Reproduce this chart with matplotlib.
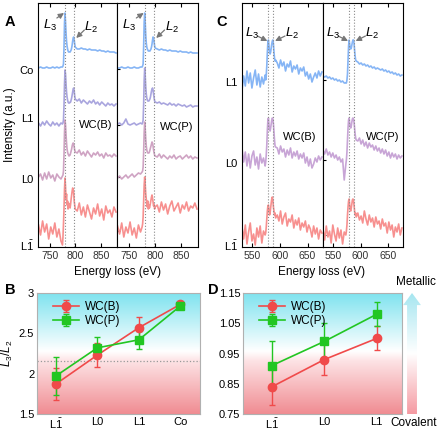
import numpy as np
import matplotlib
matplotlib.use("Agg")
import matplotlib.pyplot as plt
from matplotlib.colors import LinearSegmentedColormap
from matplotlib.patches import Polygon

plt.rcParams["font.family"] = ["Liberation Sans", "DejaVu Sans"]
plt.rcParams["mathtext.fontset"] = "custom"
plt.rcParams["mathtext.rm"] = "Liberation Sans"
plt.rcParams["mathtext.it"] = "Liberation Sans:italic"
plt.rcParams["mathtext.bf"] = "Liberation Sans:bold"

LBAR = r"$\mathregular{L\bar{1}}$"
BLUE = "#86b5f5"
LAV = "#a9a5de"
MAUVE = "#cfa3c3"
LILAC = "#c8a5d6"
SALMON = "#f7908f"
RED = "#f04a4a"
GREEN = "#22c622"
GREY = "#8a8a8a"

# ---------------------------------------------------------------- data
# Co L-edge spectra (panel A), intensity above each trace's own baseline (a.u.)
E_A = np.concatenate([np.arange(728, 776, 4), np.arange(775, 801), np.arange(804, 884, 4)])
A_labels = ["Co", "L1", "L0", LBAR]
A_offsets = [179, 123, 70, 18]
A_colors = [BLUE, LAV, MAUVE, SALMON]

wcb_co = [0, 1, 0, 0, 1, 0, 0, 1, 0, 1, 0, 1,
          1, 2, 4, 20, 45, 55, 46, 35, 27, 22, 19, 17, 16, 16, 16, 16, 17, 18, 20, 23, 27, 30, 31, 28, 24, 21,
          19, 19, 20, 19, 19, 18, 19, 18, 18, 18, 17, 18, 17, 17, 16, 17, 16, 16, 16, 15]
wcb_l1 = [1, -2, 2, -1, 3, 0, -2, 2, -1, 1, -2, 1,
          0, 1, 4, 18, 40, 54, 50, 40, 32, 27, 24, 22, 21, 21, 21, 22, 22, 24, 26, 29, 32, 35, 36, 33, 28, 25,
          23, 25, 21, 24, 22, 20, 23, 21, 24, 20, 22, 19, 22, 20, 18, 21, 19, 20, 18, 20]
wcb_l0 = [0, 3, -3, 4, -2, 5, -1, 2, -4, 3, 0, -2,
          1, 2, 6, 22, 45, 57, 52, 42, 34, 28, 25, 23, 22, 21, 22, 22, 24, 26, 28, 31, 33, 34, 33, 30, 27, 25,
          24, 27, 22, 25, 21, 26, 23, 20, 24, 22, 25, 21, 23, 19, 24, 21, 22, 20, 23, 21]
wcb_l1bar = [4, -6, 8, -3, 5, -10, 2, -5, 6, -8, 0, -12,
             -16, -8, 5, 20, 40, 51, 42, 30, 35, 24, 28, 20, 26, 22, 24, 21, 25, 30, 34, 38, 41, 40, 36, 28, 24, 20,
             18, 26, 14, 22, 12, 24, 17, 10, 21, 15, 25, 13, 20, 9, 23, 16, 19, 12, 22, 17]

wcp_co = [0, 0, 1, 0, 0, 1, 0, 0, 1, 0, 0, 1,
          1, 2, 4, 22, 46, 55, 45, 33, 25, 21, 19, 18, 17, 17, 17, 17, 18, 19, 21, 24, 28, 31, 30, 26, 22, 20,
          19, 18, 19, 18, 18, 17, 18, 17, 17, 17, 16, 17, 16, 16, 16, 15, 16, 15, 15, 15]
wcp_l1 = [0, 1, -1, 1, 5, 0, -1, 0, 1, -1, 0, 1,
          0, 1, 4, 20, 44, 56, 48, 37, 30, 26, 24, 23, 23, 23, 24, 25, 27, 30, 33, 35, 36, 34, 30, 26, 23, 22,
          21, 22, 20, 21, 20, 19, 21, 19, 20, 18, 20, 19, 18, 19, 17, 18, 19, 17, 18, 18]
wcp_l0 = [-1, 1, -2, 0, 2, -1, 1, 3, 0, 2, 4, 3,
          5, 6, 10, 25, 45, 55, 48, 38, 31, 27, 25, 24, 24, 24, 25, 27, 29, 31, 33, 35, 34, 31, 27, 24, 22, 21,
          20, 23, 19, 22, 20, 18, 21, 19, 22, 18, 20, 21, 18, 20, 22, 19, 21, 18, 20, 19]
wcp_l1bar = [3, -5, 6, -8, 2, -4, 7, -6, 1, -9, 4, -3,
             2, 5, 12, 28, 44, 52, 44, 35, 30, 26, 22, 28, 20, 24, 21, 23, 26, 29, 32, 34, 31, 27, 23, 25, 20, 22,
             24, 17, 27, 19, 25, 15, 23, 28, 18, 22, 26, 16, 24, 20, 27, 18, 23, 21, 26, 20]

# Cr L-edge spectra (panel C)
E_C = np.concatenate([np.arange(531, 574, 3), np.arange(574, 593), np.arange(595, 678, 3)])
C_labels = ["L1", "L0", LBAR]
C_offsets = [167, 87, 12]
C_colors = [BLUE, LILAC, SALMON]

c_wcb_l1 = [-10, 4, -6, 9, -3, 7, -8, 2, 10, -5, 6, -7, 3, -4, 5,
            0, 5, 14, 28, 38, 40, 34, 28, 26, 28, 32, 36, 39, 40, 36, 28, 22, 19, 20,
            17, 12, 20, 14, 18, 9, 16, 13, 19, 8, 14, 11, 15, 6, 12, 9, 13, 4, 8, 1, 6, -2, 3, 7, 2, 9, 4, 8]
c_wcb_l0 = [12, -2, 8, -6, 6, -8, 4, 9, -5, 3, -9, 6, -3, 2, -6,
            -2, 5, 15, 30, 40, 42, 35, 30, 29, 32, 36, 40, 42, 41, 36, 28, 20, 14, 13,
            12, 6, 14, 8, 11, 3, 10, 5, 12, 2, 8, 4, 9, 1, 6, 2, 7, -3, 3, -6, 1, -8, -4, 2, -2, 4, 0, 3]
c_wcb_l1bar = [8, -4, 10, -9, 3, 12, -6, 1, -10, 7, -2, 9, -8, 4, 0,
               2, 8, 16, 24, 29, 30, 24, 20, 22, 27, 32, 36, 38, 35, 28, 24, 20, 22, 17,
               20, 14, 24, 11, 18, 22, 9, 16, 13, 20, 7, 15, 10, 17, 5, 12, 8, 14, 3, 10, 6, -2, 9, 1, 7, -4, 5, 2]

c_wcp_l1 = [4, 3, 4, 2, 3, 1, 2, 0, 1, -1, 0, -2, -1, -3, -3,
            -3, 0, 6, 20, 34, 40, 36, 32, 31, 32, 35, 38, 40, 40, 37, 30, 24, 20, 19,
            18, 16, 17, 15, 16, 14, 15, 13, 14, 12, 13, 11, 12, 11, 10, 11, 9, 10, 8, 9, 7, 8, 6, 7, 5, 6, 4, 5]
c_wcp_l0 = [10, 6, 11, 5, 8, 3, 7, 2, 5, 0, 3, -2, 1, -20, -4,
            0, 8, 20, 32, 40, 42, 37, 33, 32, 34, 38, 41, 42, 41, 38, 32, 26, 22, 20,
            19, 22, 16, 20, 14, 18, 12, 17, 13, 15, 10, 14, 9, 12, 7, 11, 6, 10, 4, 8, 2, 7, 3, 6, 1, 5, 2, 4]
c_wcp_l1bar = [6, -5, 9, -2, 4, -8, 10, 1, -6, 7, -3, 5, -9, 3, 0,
               4, 10, 20, 28, 34, 36, 30, 25, 24, 27, 31, 35, 36, 35, 30, 24, 20, 22, 18,
               22, 15, 19, 12, 24, 16, 10, 20, 13, 17, 8, 18, 11, 14, 6, 16, 9, 12, 2, 13, 5, 10, -2, 8, 3, 11, 0, 7]

# L3/L2 ratios (panel B: Co, panel D: Cr)
B_cats = [LBAR, "L0", "L1", "Co"]
B_wcb = [1.87, 2.23, 2.57, 2.86]
B_wcb_err = [0.20, 0.15, 0.13, 0.03]
B_wcp = [1.97, 2.32, 2.42, 2.84]
B_wcp_err = [0.24, 0.13, 0.11, 0.04]
B_ref = 2.16

D_cats = [LBAR, "L0", "L1"]
D_wcb = [0.84, 0.93, 1.00]
D_wcb_err = [0.06, 0.05, 0.04]
D_wcp = [0.91, 0.99, 1.08]
D_wcp_err = [0.08, 0.06, 0.04]

# ---------------------------------------------------------------- layout helpers
W, H = 440, 430
fig = plt.figure(figsize=(4.4, 4.3), dpi=100)


def box(x0, y0, x1, y1):
    return [x0 / W, 1 - y1 / H, (x1 - x0) / W, (y1 - y0) / H]


def spectrum_axes(rect, E, curves, offsets, colors, xlim, xticks, edges,
                  name, name_xy, l3, l2, labels=None, label_pos=None, tick_pos=None):
    ax = fig.add_axes(rect)
    for c, off, col in zip(curves, offsets, colors):
        ax.plot(E, np.array(c) + off, color=col, lw=1.2)
    for e in edges:
        ax.axvline(e, color=GREY, ls=":", lw=0.8)
    ax.set_xlim(*xlim)
    ax.set_ylim(0, 244)
    ax.set_xticks(xticks)
    ax.tick_params(axis="x", direction="in", top=True, length=3, labelsize=7.5, pad=3,
                   labelcolor="#333333")
    if labels is not None:
        ax.set_yticks(label_pos)
        ax.set_yticklabels(labels, fontsize=8)
        ax.tick_params(axis="y", length=0, pad=3)
    else:
        ax.set_yticks(tick_pos)
        ax.set_yticklabels([])
        ax.tick_params(axis="y", direction="in", length=2)
    for s in ax.spines.values():
        s.set_linewidth(0.8)
    ax.text(name_xy[0], name_xy[1], name, fontsize=8, ha="center", va="center")
    arr = dict(arrowstyle="-|>", color="#777777", lw=0.9, mutation_scale=8,
               shrinkA=0, shrinkB=0)
    ax.annotate("", xy=l3[2], xytext=l3[1], arrowprops=arr)
    ax.text(l3[0][0], l3[0][1], "$L_3$", fontsize=9.5, ha="center", va="center")
    ax.annotate("", xy=l2[2], xytext=l2[1], arrowprops=arr)
    ax.text(l2[0][0], l2[0][1], "$L_2$", fontsize=9.5, ha="center", va="center")
    return ax


# ---------------------------------------------------------------- A
A_l3 = [(751, 222), (764, 229), (778, 234)]
A_l2 = [(832, 220), (818, 217), (802, 209)]
spectrum_axes(box(38, 3, 117, 247), E_A, [wcb_co, wcb_l1, wcb_l0, wcb_l1bar], A_offsets, A_colors,
              (727, 882), [750, 800, 850], [780, 797], "WC(B)", (840, 122), A_l3, A_l2,
              labels=A_labels, label_pos=[177, 129, 68, 2])
spectrum_axes(box(117, 3, 198, 247), E_A, [wcp_co, wcp_l1, wcp_l0, wcp_l1bar], A_offsets, A_colors,
              (727, 882), [750, 800, 850], [780, 797], "WC(P)", (842, 120), A_l3, A_l2,
              tick_pos=[178, 122, 70, 16])

# ---------------------------------------------------------------- C
C_l3 = [(549, 214), (559, 211), (577, 206)]
C_l2 = [(621, 214), (609, 211), (591, 206)]
spectrum_axes(box(242, 3, 323, 247), E_C, [c_wcb_l1, c_wcb_l0, c_wcb_l1bar], C_offsets, C_colors,
              (531, 678), [550, 600, 650], [579, 588], "WC(B)", (636, 110), C_l3, C_l2,
              labels=C_labels, label_pos=[165, 84, 2])
spectrum_axes(box(323, 3, 403, 247), E_C, [c_wcp_l1, c_wcp_l0, c_wcp_l1bar], C_offsets, C_colors,
              (531, 678), [550, 600, 650], [579, 588], "WC(P)", (640, 110), C_l3, C_l2,
              tick_pos=[167, 87, 12])

fig.text(10 / W, 1 - 125 / H, "Intensity (a.u.)", rotation=90, fontsize=8.5, ha="center", va="center")
fig.text(118 / W, 1 - 272 / H, "Energy loss (eV)", fontsize=8.5, ha="center", va="center")
fig.text(322 / W, 1 - 272 / H, "Energy loss (eV)", fontsize=8.5, ha="center", va="center")

# ---------------------------------------------------------------- B and D
BG = LinearSegmentedColormap.from_list(
    "bg", [(0, "#f08c92"), (0.44, "#fde3e5"), (0.52, "#ffffff"), (1, "#7fe3ef")])
grad = np.linspace(0, 1, 256).reshape(-1, 1)


def ratio_axes(rect, cats, wcb, wcb_err, wcp, wcp_err, ylim, yticks, ytl, xlim):
    ax = fig.add_axes(rect)
    ax.imshow(grad, extent=[xlim[0], xlim[1], ylim[0], ylim[1]], origin="lower",
              aspect="auto", cmap=BG, zorder=0)
    x = np.arange(len(cats))
    ax.errorbar(x, wcb, yerr=wcb_err, color=RED, marker="o", ms=6, lw=1.2,
                elinewidth=1.0, capsize=2, label="WC(B)", zorder=3)
    ax.errorbar(x, wcp, yerr=wcp_err, color=GREEN, marker="s", ms=5.5, lw=1.2,
                elinewidth=1.0, capsize=2, label="WC(P)", zorder=3)
    ax.set_xlim(*xlim)
    ax.set_ylim(*ylim)
    ax.set_xticks(x)
    ax.set_xticklabels(cats, fontsize=8)
    ax.set_yticks(yticks)
    ax.set_yticklabels(ytl, fontsize=8)
    ax.tick_params(length=0, pad=2)
    for s in ax.spines.values():
        s.set_color("#b0b0b0")
        s.set_linewidth(0.8)
    ax.legend(loc="upper left", bbox_to_anchor=(0.05, 1.0), frameon=False, fontsize=8.5,
              handlelength=2.2, labelspacing=0.15, borderaxespad=0.3, handletextpad=0.5)
    return ax


axB = ratio_axes(box(37, 293, 200, 414), B_cats, B_wcb, B_wcb_err, B_wcp, B_wcp_err,
                 (1.5, 3.0), [1.5, 2, 2.5, 3], ["1.5", "2", "2.5", "3"], (-0.45, 3.47))
axB.axhline(B_ref, color="#999999", ls=":", lw=0.9, zorder=1)
axB.set_ylabel("$L_3/L_2$", fontsize=8.5, labelpad=3)

ratio_axes(box(243, 293, 402, 414), D_cats, D_wcb, D_wcb_err, D_wcp, D_wcp_err,
           (0.75, 1.15), [0.75, 0.85, 0.95, 1.05, 1.15], ["0.75", "0.85", "0.95", "1.05", "1.15"],
           (-0.55, 2.48))

# gradient arrow: covalent -> metallic
axA = fig.add_axes(box(401, 293, 422, 414))
ARR = LinearSegmentedColormap.from_list("arr", ["#f59aa2", "#ffffff", "#a6e6f0"])
im = axA.imshow(grad, extent=[0, 1, 0, 1], origin="lower", aspect="auto", cmap=ARR)
shape = Polygon([(0.29, 0), (0.76, 0), (0.76, 0.9), (0.95, 0.9), (0.525, 1.0),
                 (0.1, 0.9), (0.29, 0.9)], closed=True, transform=axA.transData,
                facecolor="none", edgecolor="none")
axA.add_patch(shape)
im.set_clip_path(shape)
axA.set_xlim(0, 1)
axA.set_ylim(0, 1)
axA.axis("off")
fig.text(416 / W, 1 - 282 / H, "Metallic", fontsize=8.5, ha="center", va="center")
fig.text(414 / W, 1 - 423 / H, "Covalent", fontsize=8.5, ha="center", va="center")

# panel letters
for lab, (px, py) in {"A": (10, 22), "B": (10, 290), "C": (222, 22), "D": (213, 290)}.items():
    fig.text(px / W, 1 - py / H, lab, fontsize=10.5, fontweight="bold", ha="center", va="center")

fig.savefig("out.png", dpi=100)
